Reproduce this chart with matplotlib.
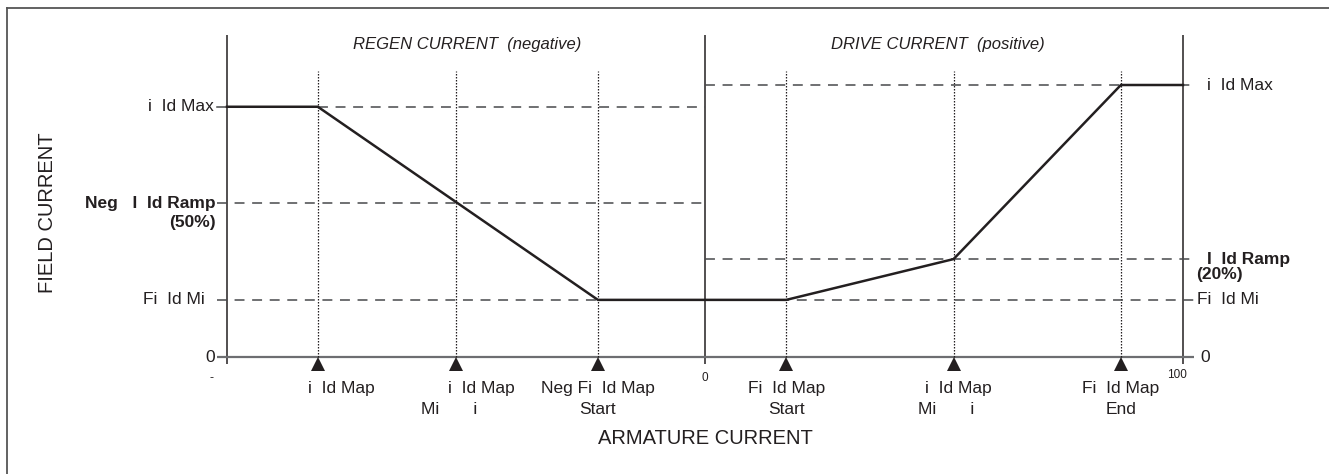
import matplotlib
matplotlib.use("Agg")
import matplotlib.pyplot as plt
from matplotlib.lines import Line2D

plt.rcParams['font.family'] = ['Liberation Sans', 'DejaVu Sans']

# ---------------- data ----------------
armature = [-100, -81, -22.4, 17, 52, 87, 100]          # armature current (%)
field = [92, 92, 21, 21, 36, 100, 100]                   # field current (%)

map_points = [-81, -52, -22.4, 17, 52, 87]               # field map breakpoints
map_line1 = ["i  Id Map", "i  Id Map", "Neg Fi  Id Map", "Fi  Id Map", "i  Id Map", "Fi  Id Map"]
map_line2 = ["", "Mi       i", "Start", "Start", "Mi       i", "End"]

neg_max, neg_ramp, fld_min = 92, 56.5, 21
pos_max, pos_ramp = 100, 36

left_labels = ["i  Id Max", "Fi  Id Mi", "0"]
left_values = [neg_max, fld_min, 0]
right_labels = ["i  Id Max", "Fi  Id Mi", "0"]
right_values = [pos_max, fld_min, 0]

# ---------------- layout helpers (pixel -> data) ----------------
def X(px):
    return -100 + (px - 227) / 4.78

def Y(py):
    return (357 - py) / 2.72

W, H = 1329, 474
fig = plt.figure(figsize=(W / 100, H / 100), dpi=100)
ax = fig.add_axes([0, 0, 1, 1])
ax.set_xlim(X(0), X(W))
ax.set_ylim(Y(H), Y(0))
ax.axis('off')

ink = '#231f20'
gray = '#48494b'
dash = (6.5, 5)

# border
fig.add_artist(Line2D([7 / W, 1], [1 - 7.5 / H, 1 - 7.5 / H], color='#555555', lw=1.3))
fig.add_artist(Line2D([7 / W, 7 / W], [0, 1 - 7.5 / H], color='#555555', lw=1.3))

# vertical axes
for xv in (-100, 0, 100):
    ax.plot([xv, xv], [Y(364), Y(35)], color=ink, lw=1.1, solid_capstyle='butt')

# baseline
ax.plot([X(217), X(1194)], [0, 0], color='#6d6e71', lw=1.6, solid_capstyle='butt')

# dotted verticals at map points
for mp in map_points:
    ax.plot([mp, mp], [0, Y(71)], color=ink, lw=0.9, dashes=(1.2, 1.2))

# dashed reference lines
ax.plot([map_points[0], 0], [neg_max, neg_max], color=gray, lw=1.1, dashes=dash)
ax.plot([X(217), -100], [neg_max, neg_max], color=gray, lw=1.1)
ax.plot([X(217), 0], [neg_ramp, neg_ramp], color=gray, lw=1.1, dashes=dash)
ax.plot([X(217), X(1194)], [fld_min, fld_min], color=gray, lw=1.1, dashes=dash)
ax.plot([0, X(1194)], [pos_max, pos_max], color=gray, lw=1.1, dashes=dash)
ax.plot([0, X(1194)], [pos_ramp, pos_ramp], color=gray, lw=1.1, dashes=dash)

# main characteristic
ax.plot(armature, field, color=ink, lw=1.8, solid_joinstyle='miter')

# triangles
ax.plot(map_points, [Y(363.5)] * len(map_points), linestyle='none', marker='^',
        markersize=9.5, color=ink, markeredgewidth=0)

fs = 12.5
# left labels
for lab, v in zip(left_labels, left_values):
    xr = 205 if lab.startswith('Fi') else 214
    if lab == '0':
        xr = 215
    ax.text(X(xr), v, lab, ha='right', va='center', fontsize=fs, color=ink)
ax.text(X(216), neg_ramp, "Neg   I  Id Ramp", ha='right', va='center', fontsize=fs,
        fontweight='bold', color=ink)
ax.text(X(216), Y(222), "(50%)", ha='right', va='center', fontsize=fs,
        fontweight='bold', color=ink)

# right labels
for lab, v in zip(right_labels, right_values):
    xl = 1197 if lab.startswith('Fi') else 1207
    if lab == '0':
        xl = 1200
    ax.text(X(xl), v, lab, ha='left', va='center', fontsize=fs, color=ink)
ax.text(X(1207), pos_ramp, "I  Id Ramp", ha='left', va='center', fontsize=fs,
        fontweight='bold', color=ink)
ax.text(X(1196), Y(275), "(20%)", ha='left', va='center', fontsize=fs,
        fontweight='bold', color=ink)

# small axis tick texts
ax.text(X(211), Y(378), "-", ha='center', va='center', fontsize=9, color=ink)
ax.text(0, Y(378), "0", ha='center', va='center', fontsize=8.5, color=ink)
ax.text(X(1177), Y(375), "100", ha='center', va='center', fontsize=8.5, color=ink)

# bottom map labels (pixel offsets of the text centres from each breakpoint)
off1 = [24, 25, 0, 0, 5, 0]
off2 = [0, -7, 0, 0, -7, 0]
for mp, l1, l2, o1, o2 in zip(map_points, map_line1, map_line2, off1, off2):
    ax.annotate(l1, (mp, Y(388)), xytext=(o1, 0), textcoords='offset pixels',
                ha='center', va='center', fontsize=fs, color=ink)
    if l2:
        ax.annotate(l2, (mp, Y(409)), xytext=(o2, 0), textcoords='offset pixels',
                    ha='center', va='center', fontsize=fs, color=ink)

# headers and axis titles
ax.text(X(467), Y(44), "REGEN CURRENT  (negative)", ha='center', va='center',
        fontsize=12, style='italic', color=ink)
ax.text(X(938), Y(44), "DRIVE CURRENT  (positive)", ha='center', va='center',
        fontsize=12, style='italic', color=ink)
ax.text(X(705), Y(438), "ARMATURE CURRENT", ha='center', va='center', fontsize=14.5, color=ink)
ax.text(X(47), Y(213), "FIELD CURRENT", ha='center', va='center', fontsize=14.5,
        rotation=90, color=ink)

fig.savefig("out.png", dpi=100)
